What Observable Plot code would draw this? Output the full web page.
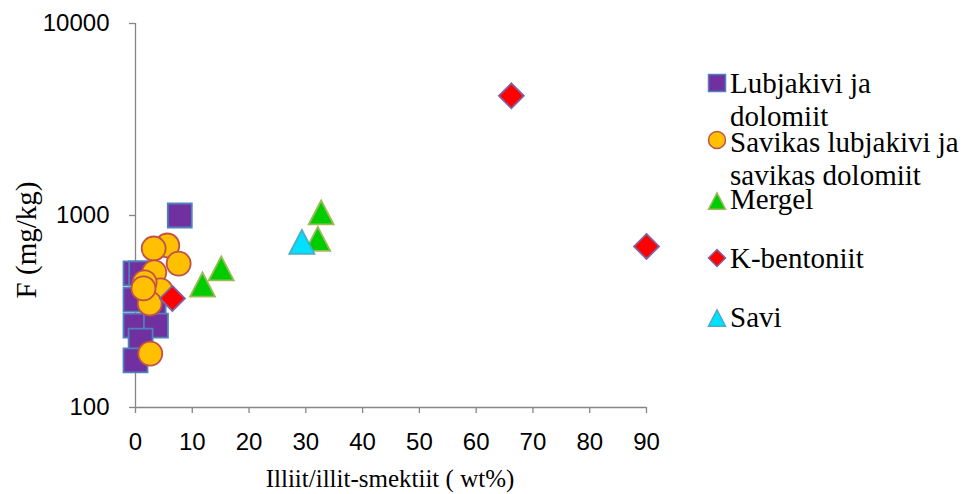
<!DOCTYPE html>
<html><head><meta charset="utf-8">
<script src="https://cdn.jsdelivr.net/npm/d3@7"></script>
<script src="https://cdn.jsdelivr.net/npm/@observablehq/plot@0.6"></script>
<style>body{margin:0;background:#fff} svg{display:block}</style>
</head><body><div id="chart"></div>
<script>
// ---- data ----
const xTicks = [0, 10, 20, 30, 40, 50, 60, 70, 80, 90];
const yTicks = [100, 1000, 10000];
const xLabel = "Illiit/illit-smektiit ( wt%)";
const yLabel = "F (mg/kg)";

const seriesNames = ["Lubjakivi ja dolomiit", "Savikas lubjakivi ja savikas dolomiit", "Mergel", "K-bentoniit", "Savi"];
const legendLines = [["Lubjakivi ja", "dolomiit"], ["Savikas lubjakivi ja", "savikas dolomiit"], ["Mergel"], ["K-bentoniit"], ["Savi"]];

const lubX = [7.8, 0, 1.0, 0, 3.2, 0, 3.6, 0.9, 0];
const lubY = [1000, 499, 499, 365, 352, 267, 267, 223, 176];

const savX = [5.6, 3.2, 7.6, 3.3, 4.4, 2.5, 1.6, 1.4, 2.6];
const savY = [698, 673, 562, 505, 407, 348, 448, 417, 191];

const merX = [11.8, 15.1, 32.1, 32.7];
const merY = [437, 530, 755, 1037];

const kbX = [6.5, 66.2, 90];
const kbY = [370, 4200, 690];

const saviX = [29.3];
const saviY = [728];

// ---- symbols (r = half size) ----
const symSquare = {draw(c, s){ const h = Math.sqrt(s/Math.PI); c.moveTo(-h,-h); c.lineTo(h,-h); c.lineTo(h,h); c.lineTo(-h,h); c.closePath(); }};
const symTri = {draw(c, s){ const h = Math.sqrt(s/Math.PI); const v = h*0.96; c.moveTo(0,-v); c.lineTo(h,v); c.lineTo(-h,v); c.closePath(); }};
const symDiamond = {draw(c, s){ const h = Math.sqrt(s/Math.PI); c.moveTo(0,-h); c.lineTo(h,0); c.lineTo(0,h); c.lineTo(-h,0); c.closePath(); }};
const symCircle = d3.symbolCircle;

const styles = [
  {symbol: symSquare, fill: "#7030A0", stroke: "#4F81BD", r: 12},
  {symbol: symCircle, fill: "#FFC000", stroke: "#C0504D", r: 12},
  {symbol: symTri, fill: "#00CC00", stroke: "#9BBB59", r: 12.5},
  {symbol: symDiamond, fill: "#FF0000", stroke: "#8064A2", r: 12.5},
  {symbol: symTri, fill: "#00E0FF", stroke: "#4BACC6", r: 12.5}
];

const seriesX = [lubX, savX, merX, kbX, saviX];
const seriesY = [lubY, savY, merY, kbY, saviY];
const tables = seriesX.map((xs, i) => xs.map((x, j) => ({x, y: seriesY[i][j], s: seriesNames[i]})));

const axisColor = "#868686";

const chart = Plot.plot({
  width: 971, height: 494,
  marginLeft: 135, marginRight: 325, marginTop: 23, marginBottom: 87,
  style: {fontFamily: "'Liberation Sans', Arial, sans-serif", fontSize: "24px", color: "#000", background: "#fff"},
  x: {domain: [0, 90]},
  y: {type: "log", domain: [100, 10000]},
  marks: [
    Plot.ruleX([0], {stroke: axisColor, strokeWidth: 1.3}),
    Plot.ruleY([100], {stroke: axisColor, strokeWidth: 1.3}),
    Plot.axisX({ticks: xTicks, tickSize: 6, tickPadding: 19, stroke: axisColor, strokeWidth: 1.3, label: null, fontSize: 24}),
    Plot.axisY({ticks: yTicks, tickSize: 6, tickPadding: 20, stroke: axisColor, strokeWidth: 1.3, label: null, tickFormat: d => String(d), fontSize: 24}),
    ...tables.map((t, i) => Plot.dot(t, {x: "x", y: "y", symbol: styles[i].symbol, r: styles[i].r, fill: styles[i].fill, stroke: styles[i].stroke, strokeWidth: 1.8, fillOpacity: 1}))
  ]
});

document.getElementById("chart").appendChild(chart);

// axis titles
const svg = d3.select(chart);
const serif = "'Liberation Serif', 'Times New Roman', serif";
svg.append("text").attr("x", 390).attr("y", 487).attr("text-anchor", "middle")
  .style("font-family", serif).style("font-size", "25px").attr("fill", "#000").text(xLabel);
svg.append("text").attr("transform", "translate(36,240) rotate(-90)").attr("text-anchor", "middle")
  .style("font-family", serif).style("font-size", "29px").attr("fill", "#000").text(yLabel);

// legend
const legendMarkerY = [83, 140, 201, 258, 318];
const legendTextY = [93, 152, 209, 268, 327];
const lg = svg.append("g").attr("text-anchor", "start");
styles.forEach((st, i) => {
  lg.append("path")
    .attr("transform", `translate(717,${legendMarkerY[i]})`)
    .attr("d", d3.symbol().type(st.symbol).size(Math.PI * 8.5 * 8.5)())
    .attr("fill", st.fill).attr("stroke", st.stroke).attr("stroke-width", 1.5);
  const t = lg.append("text").attr("x", 730).attr("y", legendTextY[i]).attr("text-anchor", "start")
    .style("font-family", serif).style("font-size", "29px").attr("fill", "#000");
  legendLines[i].forEach((ln, k) => {
    t.append("tspan").attr("x", 730).attr("dy", k === 0 ? 0 : 33)
      .style("font-family", serif).style("font-size", "29px").text(ln);
  });
});
</script>
</body></html>
